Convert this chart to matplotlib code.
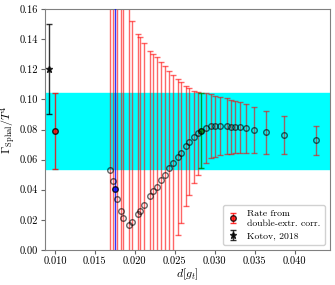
import matplotlib
matplotlib.use("Agg")
import matplotlib.pyplot as plt
import numpy as np

plt.rcParams["font.family"] = "serif"
plt.rcParams["font.serif"] = ["cmr10", "DejaVu Serif"]
plt.rcParams["mathtext.fontset"] = "cm"
plt.rcParams["axes.formatter.use_mathtext"] = True

# ============================================================
# DADOS
# ============================================================
d_main = [0.01688, 0.01721, 0.01779, 0.01821, 0.01854, 0.01929, 0.01962,
          0.02034, 0.02067, 0.02113, 0.02188, 0.02229, 0.02271, 0.02321,
          0.02371, 0.02429, 0.02479, 0.02534, 0.02571, 0.02641, 0.02679,
          0.02738, 0.02784, 0.02888, 0.02950, 0.03000, 0.03067, 0.03154,
          0.03200, 0.03250, 0.03309, 0.03388, 0.03491, 0.03638, 0.03866,
          0.04262]
rate_main = [0.0531, 0.0458, 0.0339, 0.0261, 0.0210, 0.0164, 0.0184,
             0.0237, 0.0259, 0.0301, 0.0359, 0.0390, 0.0420, 0.0463,
             0.0500, 0.0542, 0.0578, 0.0619, 0.0646, 0.0692, 0.0719,
             0.0752, 0.0775, 0.0810, 0.0821, 0.0822, 0.0823, 0.0823,
             0.0819, 0.0817, 0.0815, 0.0808, 0.0797, 0.0783, 0.0763,
             0.0728]
err_main = [0.30, 0.28, 0.26, 0.24, 0.22, 0.19, 0.1336,
            0.120, 0.1153, 0.1075, 0.0966, 0.091, 0.086, 0.0785,
            0.0722, 0.0646, 0.0584, 0.052, 0.047, 0.040, 0.0356,
            0.0306, 0.0275, 0.023, 0.0213, 0.0203, 0.0195, 0.0184,
            0.018, 0.0175, 0.0171, 0.0164, 0.0154, 0.0143, 0.0124,
            0.0096]

d_blue, rate_blue, err_blue = 0.01746, 0.0407, 0.30
d_green, rate_green, err_green = 0.02829, 0.0793, 0.025

d_extr, rate_extr, err_extr = 0.0100, 0.079, 0.025
d_kotov, rate_kotov, err_kotov = 0.0093, 0.120, 0.030

# ============================================================
# FIGURA
# ============================================================
fig = plt.figure(figsize=(3.35, 2.85), dpi=100)
ax = fig.add_axes([0.134, 0.123, 0.851, 0.845])

# faixa da taxa extrapolada
ax.axhspan(rate_extr - err_extr, rate_extr + err_extr, color="cyan", zorder=0)

ax.errorbar(d_main, rate_main, yerr=err_main, fmt="none", ecolor="red",
            alpha=0.6, capsize=2, elinewidth=1.0, zorder=2)
ax.plot(d_main, rate_main, "o", mfc="none", mec="black", mew=1.0, ms=4,
        alpha=0.6, zorder=4)

ax.errorbar(d_blue, rate_blue, yerr=err_blue, fmt="o", color="blue",
            mec="black", ms=4, capsize=2, elinewidth=1.0, alpha=0.8, zorder=3)
ax.errorbar(d_green, rate_green, yerr=err_green, fmt="o", color="green",
            mec="black", ms=4, capsize=2, elinewidth=1.0, alpha=0.8, zorder=3)

ax.errorbar(d_extr, rate_extr, yerr=err_extr, fmt="o", color="red",
            mec="black", ecolor="red", ms=4, capsize=2, elinewidth=1.0,
            alpha=0.8, zorder=3, label="Rate from\ndouble-extr. corr.")
ax.errorbar(d_kotov, rate_kotov, yerr=err_kotov, fmt="*", color="black",
            ms=5, capsize=2, elinewidth=1.0, alpha=0.8, zorder=3,
            label="Kotov, 2018")

ax.set_xlim(0.00875, 0.0444)
ax.set_ylim(0.0, 0.16)
ax.set_xticks([0.010, 0.015, 0.020, 0.025, 0.030, 0.035, 0.040])
ax.set_xticklabels(["0.010", "0.015", "0.020", "0.025", "0.030", "0.035", "0.040"])
ax.set_yticks(np.arange(0.0, 0.161, 0.02))
ax.set_yticklabels(["%.2f" % v for v in np.arange(0.0, 0.161, 0.02)])
ax.tick_params(labelsize=7.5, length=3, pad=2, color="0.4")
for s in ax.spines.values():
    s.set_color("0.5")

ax.set_xlabel(r"$d[g_t]$", fontsize=8.5, labelpad=0)
ax.set_ylabel(r"$\Gamma_{\rm Sphal}/T^4$", fontsize=8.5, labelpad=1)

ax.legend(loc="lower right", fontsize=7, handlelength=1.2,
          borderpad=0.5, labelspacing=0.4, framealpha=0.9)

fig.savefig("out.png", dpi=100)
